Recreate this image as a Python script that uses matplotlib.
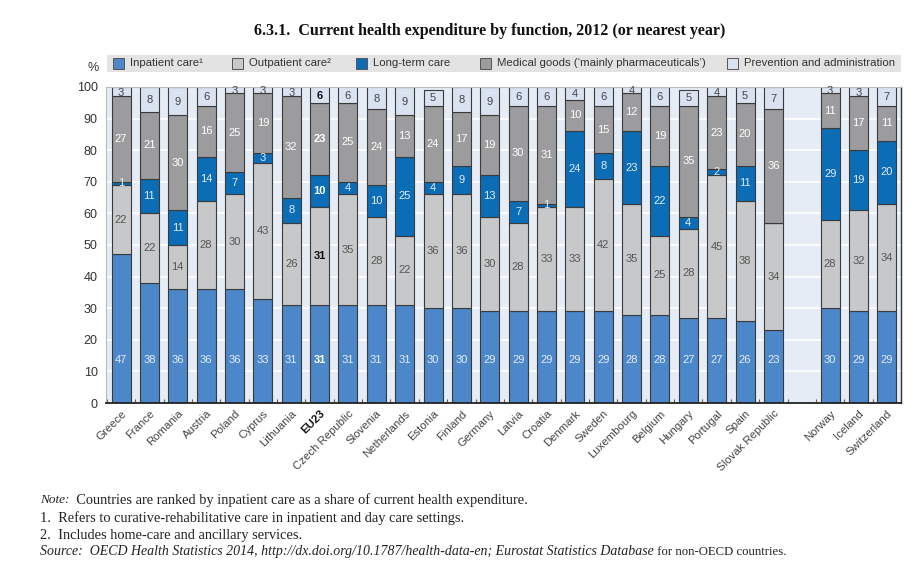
import matplotlib
matplotlib.use("Agg")
import matplotlib.pyplot as plt
from matplotlib.patches import Rectangle
import numpy as np

countries = ["Greece", "France", "Romania", "Austria", "Poland", "Cyprus", "Lithuania", "EU23",
             "Czech Republic", "Slovenia", "Netherlands", "Estonia", "Finland", "Germany", "Latvia",
             "Croatia", "Denmark", "Sweden", "Luxembourg", "Belgium", "Hungary", "Portugal", "Spain",
             "Slovak Republic", "Norway", "Iceland", "Switzerland"]
inpatient = [47, 38, 36, 36, 36, 33, 31, 31, 31, 31, 31, 30, 30, 29, 29, 29, 29, 29, 28, 28, 27, 27, 26, 23, 30, 29, 29]
outpatient = [22, 22, 14, 28, 30, 43, 26, 31, 35, 28, 22, 36, 36, 30, 28, 33, 33, 42, 35, 25, 28, 45, 38, 34, 28, 32, 34]
longterm = [1, 11, 11, 14, 7, 3, 8, 10, 4, 10, 25, 4, 9, 13, 7, 1, 24, 8, 23, 22, 4, 2, 11, 0, 29, 19, 20]
medical = [27, 21, 30, 16, 25, 19, 32, 23, 25, 24, 13, 24, 17, 19, 30, 31, 10, 15, 12, 19, 35, 23, 20, 36, 11, 17, 11]
prevention = [3, 8, 9, 6, 3, 3, 3, 6, 6, 8, 9, 5, 8, 9, 6, 6, 4, 6, 4, 6, 5, 4, 5, 7, 3, 3, 7]

series_names = ["Inpatient care\u00b9", "Outpatient care\u00b2", "Long-term care",
                "Medical goods (\u2018mainly pharmaceuticals\u2019)", "Prevention and administration"]
series = [inpatient, outpatient, longterm, medical, prevention]
colors = ["#4b87c9", "#c7c8ca", "#0b6db6", "#9c9c9e", "#d9e2f1"]
label_colors = ["#e4ecf7", "#555555", "#e4ecf7", "#ffffff", "#444444"]

narrow = ["Liberation Sans", "DejaVu Sans"]
serif = ["Liberation Serif", "DejaVu Serif"]

# positions: gap slot between Slovak Republic and Norway
pos = np.array(list(range(24)) + [25, 26, 27], dtype=float)

fig = plt.figure(figsize=(9.13, 5.85), dpi=100)
ax = fig.add_axes([0.1161, 0.3111, 0.8708, 0.5402])
ax.set_facecolor("#e6ecf5")

bottom = np.zeros(len(countries))
for k, (vals, col) in enumerate(zip(series, colors)):
    vals = np.array(vals, dtype=float)
    ax.bar(pos, vals, bottom=bottom, width=0.67, color=col, edgecolor="#3a3a3a",
           linewidth=0.8, zorder=2)
    for i, v in enumerate(vals):
        if v <= 0:
            continue
        if k == 0:
            y = 13.5
        else:
            y = (bottom[i] + min(bottom[i] + v, 99.5)) / 2.0
        bold = countries[i] == "EU23"
        c = label_colors[k]
        if bold and k in (1, 4):
            c = "#111111"
        if bold and k in (0, 2, 3):
            c = "#ffffff"
        ax.text(pos[i], y, f"{int(v)}", ha="center", va="center", fontsize=8,
                family=narrow, color=c, fontweight="bold" if bold else "normal", zorder=3)
    bottom += vals

ax.set_xlim(-0.53, 27.5)
ax.set_ylim(0, 100)
ax.set_yticks(np.arange(0, 101, 10))
ax.yaxis.grid(True, color="white", linewidth=1.2, zorder=0)
ax.set_axisbelow(True)
ax.tick_params(axis="y", length=0, labelsize=9, labelcolor="#333333", pad=6)
for lab in ax.get_yticklabels():
    lab.set_family(narrow)

ax.set_xticks(pos)
ax.set_xticklabels(countries, rotation=45, ha="right", va="top", rotation_mode="anchor",
                   fontsize=8.2, family=narrow, color="#444444")
ax.tick_params(axis="x", which="major", length=0, pad=4)
ax.set_xticks(np.arange(-0.5, 27.6, 1.0), minor=True)
ax.tick_params(axis="x", which="minor", direction="in", length=3, color="#6b5a4a", width=0.8)
for lab in ax.get_xticklabels():
    if lab.get_text() == "EU23":
        lab.set_fontweight("bold")
        lab.set_color("#111111")

ax.spines["bottom"].set_color("#222222")
ax.spines["bottom"].set_linewidth(1.3)
ax.spines["right"].set_color("#333333")
ax.spines["right"].set_linewidth(1.0)
ax.spines["left"].set_color("#bbbbbb")
ax.spines["top"].set_color("#bbbbbb")

# legend band
fig.patches.append(Rectangle((107 / 913, 1 - 72 / 585), (901 - 107) / 913, 17 / 585,
                             transform=fig.transFigure, facecolor="#e3e3e3", edgecolor="none"))
leg_x = [113, 232, 356, 480, 727]
for name, col, lx in zip(series_names, colors, leg_x):
    fig.patches.append(Rectangle((lx / 913, 1 - 69 / 585), 11 / 913, 11 / 585,
                                 transform=fig.transFigure, facecolor=col,
                                 edgecolor="#555555", linewidth=0.7))
    fig.text((lx + 17) / 913, 1 - 63.5 / 585, name, ha="left", va="center", fontsize=8.2,
             family=narrow, color="#333333")
fig.text(93 / 913, 1 - 68 / 585, "%", ha="center", va="center", fontsize=9,
         family=narrow, color="#333333")

fig.text(490 / 913, 1 - 31 / 585,
         "6.3.1.  Current health expenditure by function, 2012 (or nearest year)",
         ha="center", va="center", fontsize=11.5, fontweight="bold", family=serif, color="#111111")

renderer = fig.canvas.get_renderer()


def seq_text(x_px, y_px, pieces):
    x = x_px / 913
    for s, style, size in pieces:
        t = fig.text(x, 1 - y_px / 585, s, ha="left", va="center", fontsize=size,
                     family=serif, style=style, color="#222222")
        bb = t.get_window_extent(renderer)
        x = bb.x1 / fig.bbox.width


seq_text(40, 500, [("Note:", "italic", 9.5),
                   ("  Countries are ranked by inpatient care as a share of current health expenditure.", "normal", 10.4)])
seq_text(40, 518, [("1.  Refers to curative-rehabilitative care in inpatient and day care settings.", "normal", 10.4)])
seq_text(40, 535, [("2.  Includes home-care and ancillary services.", "normal", 10.4)])
seq_text(40, 552, [("Source:  OECD Health Statistics 2014, http://dx.doi.org/10.1787/health-data-en; Eurostat Statistics Database", "italic", 10),
                   (" for non-OECD countries.", "normal", 9.2)])

fig.savefig("out.png", dpi=100)
